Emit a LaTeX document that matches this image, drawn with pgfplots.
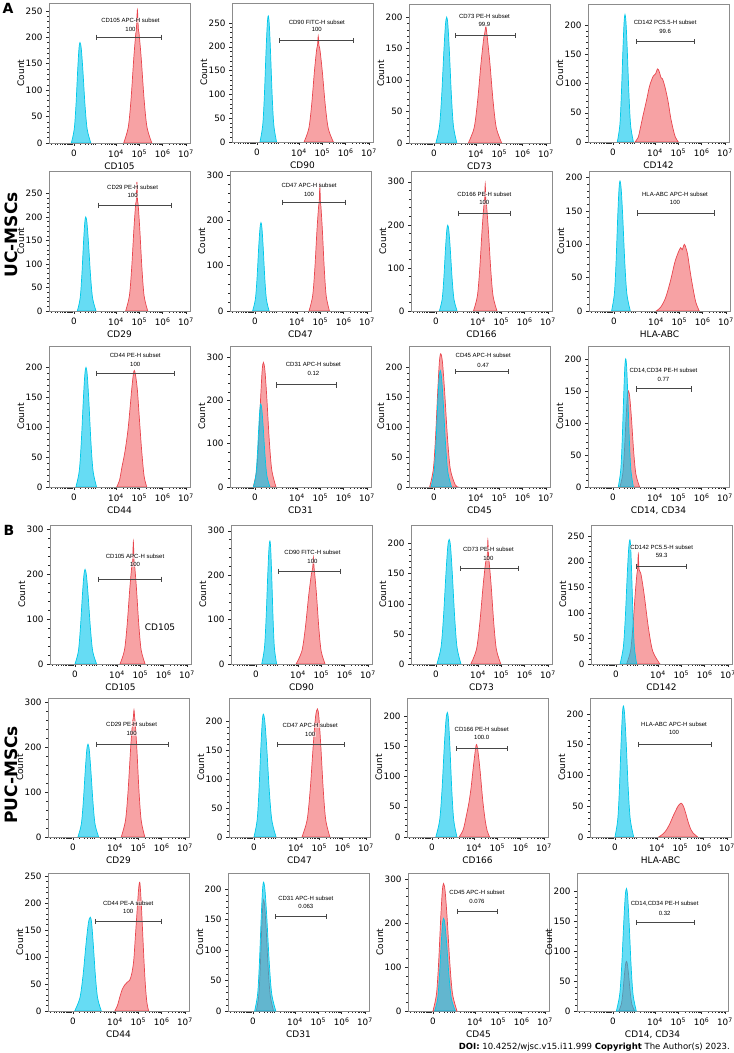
\documentclass[border=0pt]{standalone}
\usepackage{fontspec}
\setmainfont{DejaVu Sans}
\newfontfamily\gatefont{Liberation Sans}
\usepackage{pgfplots}
\pgfplotsset{compat=1.18}
\definecolor{redL}{RGB}{232,70,78}
\definecolor{redF}{RGB}{240,85,90}
\definecolor{cyL}{RGB}{0,200,232}
\definecolor{cyF}{RGB}{0,196,236}
\tikzset{gtext/.style={font=\gatefont\fontsize{6}{6.5}\selectfont, fill=white, fill opacity=0.55, text opacity=1, inner sep=0.4pt}}
\pgfplotsset{
  fc/.style={
    scale only axis, width=141pt, anchor=south west,
    xmin=-1.04, xmax=4.83, ymin=0,
    xtick={0,1.75,2.72,3.69,4.66},
    xticklabels={0,10\textsuperscript{4},10\textsuperscript{5},10\textsuperscript{6},10\textsuperscript{7}},
    minor xtick={-1.4,-1.2,-0.95,-0.8,-0.68,-0.58,-0.5,-0.42,-0.35,-0.29,-0.24,-0.2,-0.16,-0.13,-0.1,-0.07,0.25,0.45,0.6,0.72,0.82,0.9,1.15,1.3,1.4,1.48,1.55,1.61,1.66,1.71,2.04,2.21,2.33,2.43,2.50,2.57,2.63,2.68,3.01,3.18,3.30,3.40,3.47,3.54,3.60,3.65,3.98,4.15,4.27,4.37,4.44,4.51,4.57,4.62},
    minor y tick num=4,
    tick pos=left, tick align=outside,
    major tick length=3pt, minor tick length=1.6pt,
    axis line style={black!45, line width=0.6pt},
    tick style={black!85, line width=0.5pt},
    ylabel={Count},
    tick label style={font=\fontsize{8.8}{9.5}\selectfont},
    label style={font=\fontsize{9}{10}\selectfont},
    ylabel style={at={(axis description cs:-0.15,0.5)}, anchor=south},
    xlabel style={at={(axis description cs:0.5,-0.118)}, anchor=north},
    /pgf/number format/assume math mode=true,
  },
  redc/.style={smooth, draw=redL, fill=redF, fill opacity=0.55, line width=0.7pt},
  cyc/.style={smooth, draw=cyL, fill=cyF, fill opacity=0.6, line width=0.7pt},
  gatel/.style={black!72, line width=0.9pt, mark=|, mark size=2.6pt, mark options={solid, line width=0.9pt}},
}
\newcommand{\gate}[8]{%
  \addplot[gatel] coordinates {(#1,#3)(#2,#3)};
  \node[gtext] at (axis cs:#4,#5) {#6};
  \node[gtext] at (axis cs:#4,#7) {#8};
}
\begin{document}
\begin{tikzpicture}
\path[use as bounding box] (0,0) rectangle (734pt,1053pt);
% ---------------- Row 1 ----------------
\begin{axis}[fc, at={(49pt,910pt)}, height=140pt, ymax=265, ytick={0,50,...,250}, xlabel={CD105}]
\addplot[redc] coordinates {(2.07,0)(2.26,30)(2.374,82)(2.488,160)(2.573,207)(2.60,216)(2.64,252)(2.68,216)(2.71,207)(2.80,160)(2.92,82)(3.04,30)(3.24,0)} \closedcycle;
\addplot[cyc] coordinates {(-0.11,0)(0.01,26)(0.082,71)(0.154,138)(0.208,179)(0.25,190)(0.303,179)(0.37,138)(0.46,71)(0.55,26)(0.70,0)} \closedcycle;
\gate{0.95}{3.64}{200}{2.35}{232}{CD105 APC-H subset}{215}{100}
\end{axis}
\begin{axis}[fc, at={(232pt,911pt)}, height=139pt, ymax=292, ytick={0,50,...,250}, xlabel={CD90}]
\addplot[redc] coordinates {(1.96,0)(2.156,28)(2.274,77)(2.392,149)(2.481,193)(2.52,203)(2.55,222)(2.58,203)(2.623,193)(2.718,149)(2.844,77)(2.97,28)(3.18,0)} \closedcycle;
\addplot[cyc] coordinates {(0.125,0)(0.24,36)(0.309,99)(0.378,192)(0.43,249)(0.47,265)(0.51,249)(0.562,192)(0.631,99)(0.70,36)(0.815,0)} \closedcycle;
\gate{0.92}{4.0}{213}{2.49}{251}{CD90 FITC-H subset}{236}{100}
\end{axis}
\begin{axis}[fc, at={(409pt,910pt)}, height=139pt, ymax=221, ytick={0,50,...,200}, xlabel={CD73}]
\addplot[redc] coordinates {(1.43,0)(1.67,24)(1.814,66)(1.958,127)(2.066,165)(2.11,174)(2.16,185)(2.2,174)(2.228,165)(2.328,127)(2.462,66)(2.596,24)(2.82,0)} \closedcycle;
\addplot[cyc] coordinates {(0.08,0)(0.23,27)(0.32,75)(0.41,145)(0.4775,188)(0.53,200)(0.579,188)(0.642,145)(0.726,75)(0.81,27)(0.95,0)} \closedcycle;
\gate{0.9}{3.4}{171}{2.1}{202}{CD73 PE-H subset}{189}{99.9}
\end{axis}
\begin{axis}[fc, at={(588pt,911pt)}, height=138pt, ymax=236, ytick={0,50,...,200}, xlabel={CD142}]
\addplot[redc] coordinates {(0.92,0)(1.05,8)(1.125,21)(1.25,45)(1.40,72)(1.50,92)(1.58,103)(1.68,113)(1.78,117)(1.85,125)(1.92,121)(2.0,110)(2.06,108)(2.125,100)(2.2,88)(2.30,68)(2.40,42)(2.51,21)(2.6,8)(2.72,0)} \closedcycle;
\addplot[cyc] coordinates {(0.18,0)(0.286,29)(0.35,82)(0.414,158)(0.4625,205)(0.5,218)(0.541,205)(0.594,158)(0.664,82)(0.734,29)(0.85,0)} \closedcycle;
\gate{0.99}{3.39}{171.5}{2.17}{204}{CD142 PC5.5-H subset}{189}{99.6}
\end{axis}
% ---------------- Row 2 ----------------
\begin{axis}[fc, at={(49pt,742pt)}, height=140pt, ymax=298, ytick={0,50,...,250}, xlabel={CD29}]
\addplot[redc] coordinates {(2.15,0)(2.306,32)(2.40,90)(2.494,174)(2.565,226)(2.595,235)(2.62,275)(2.645,235)(2.6725,226)(2.74,174)(2.83,90)(2.92,32)(3.07,0)} \closedcycle;
\addplot[cyc] coordinates {(0.14,0)(0.256,27)(0.326,75)(0.396,145)(0.449,188)(0.49,200)(0.54,188)(0.604,145)(0.69,75)(0.776,27)(0.92,0)} \closedcycle;
\gate{1.02}{4.04}{225}{2.44}{264}{CD29 PE-H subset}{245}{100}
\end{axis}
\begin{axis}[fc, at={(230pt,742pt)}, height=140pt, ymax=309, ytick={0,100,...,300}, xlabel={CD47}]
\addplot[redc] coordinates {(2.25,0)(2.40,33)(2.49,92)(2.58,178)(2.6475,230)(2.675,240)(2.70,277)(2.725,240)(2.7465,230)(2.806,178)(2.886,92)(2.966,33)(3.10,0)} \closedcycle;
\addplot[cyc] coordinates {(-0.10,0)(0.016,26)(0.086,73)(0.156,142)(0.209,183)(0.25,195)(0.29,183)(0.34,142)(0.408,73)(0.476,26)(0.59,0)} \closedcycle;
\gate{1.13}{3.75}{240}{2.25}{277}{CD47 APC-H subset}{257}{100}
\end{axis}
\begin{axis}[fc, at={(411pt,742pt)}, height=140pt, ymax=325, ytick={0,100,...,300}, xlabel={CD166}]
\addplot[redc] coordinates {(1.56,0)(1.724,35)(1.822,98)(1.92,189)(1.993,244)(2.025,255)(2.05,295)(2.075,255)(2.107,244)(2.18,189)(2.278,98)(2.376,35)(2.54,0)} \closedcycle;
\addplot[cyc] coordinates {(0.14,0)(0.256,27)(0.326,75)(0.396,145)(0.449,187)(0.49,199)(0.5355,187)(0.594,145)(0.672,75)(0.75,27)(0.88,0)} \closedcycle;
\gate{0.92}{3.09}{227}{2.01}{271}{CD166 PE-H subset}{251}{100}
\end{axis}
\begin{axis}[fc, at={(589pt,742pt)}, height=140pt, ymax=210, ytick={0,50,...,200}, xlabel={HLA-ABC}]
\addplot[redc] coordinates {(1.76,0)(1.95,6)(2.15,20)(2.35,45)(2.54,74)(2.7,90)(2.78,95)(2.84,92)(2.93,100)(3.0,94)(3.07,84)(3.16,62)(3.26,40)(3.4,14)(3.55,0)} \closedcycle;
\addplot[cyc] coordinates {(-0.10,0)(0.016,26)(0.086,73)(0.156,142)(0.209,183)(0.25,195)(0.30,183)(0.364,142)(0.45,73)(0.536,26)(0.68,0)} \closedcycle;
\gate{0.98}{4.2}{147}{2.54}{175}{HLA-ABC APC-H subset}{163}{100}
\end{axis}
% ---------------- Row 3 ----------------
\begin{axis}[fc, at={(49pt,566pt)}, height=141pt, ymax=236, ytick={0,50,...,200}, xlabel={CD44}]
\addplot[redc] coordinates {(1.78,0)(1.9,12)(1.99,32)(2.125,60)(2.26,100)(2.40,162)(2.47,188)(2.51,195)(2.56,188)(2.64,162)(2.73,110)(2.82,60)(2.92,18)(3.03,0)} \closedcycle;
\addplot[cyc] coordinates {(0.08,0)(0.22,27)(0.304,75)(0.388,145)(0.451,188)(0.5,200)(0.5515,188)(0.618,145)(0.706,75)(0.794,27)(0.94,0)} \closedcycle;
\gate{0.94}{4.2}{190}{2.55}{220}{CD44 PE-H subset}{205}{100}
\end{axis}
\begin{axis}[fc, at={(230pt,566pt)}, height=141pt, ymax=326, ytick={0,100,...,300}, xlabel={CD31}]
\addplot[redc] coordinates {(-0.07,0)(0.07,39)(0.154,108)(0.238,209)(0.301,271)(0.35,288)(0.411,271)(0.49,209)(0.595,108)(0.70,39)(0.875,0)} \closedcycle;
\addplot[cyc] coordinates {(-0.07,0)(0.034,26)(0.096,72)(0.158,139)(0.204,180)(0.24,192)(0.285,180)(0.342,139)(0.419,72)(0.496,26)(0.625,0)} \closedcycle;
\gate{0.875}{3.4}{236}{2.43}{283}{CD31 APC-H subset}{262}{0.12}
\end{axis}
\begin{axis}[fc, at={(409pt,566pt)}, height=141pt, ymax=236, ytick={0,50,...,200}, xlabel={CD45}]
\addplot[redc] coordinates {(-0.18,0)(-0.026,30)(0.066,84)(0.158,162)(0.226,210)(0.28,223)(0.35,210)(0.44,162)(0.56,84)(0.68,30)(0.88,4)(1.0,0)} \closedcycle;
\addplot[cyc] coordinates {(-0.12,0)(0.006,26)(0.082,73)(0.158,142)(0.2155,183)(0.26,195)(0.315,183)(0.386,142)(0.48,73)(0.574,26)(0.73,0)} \closedcycle;
\gate{0.9}{3.1}{193}{2.05}{220}{CD45 APC-H subset}{204}{0.47}
\end{axis}
\begin{axis}[fc, at={(588pt,566pt)}, height=141pt, ymax=220, ytick={0,50,...,200}, xlabel={CD14, CD34}]
\addplot[redc] coordinates {(0.29,0)(0.406,20)(0.476,56)(0.546,109)(0.599,141)(0.64,150)(0.695,141)(0.766,109)(0.86,56)(0.954,20)(1.11,0)} \closedcycle;
\addplot[cyc] coordinates {(0.22,0)(0.324,27)(0.386,75)(0.448,145)(0.494,188)(0.53,200)(0.5675,188)(0.616,145)(0.68,75)(0.744,27)(0.85,0)} \closedcycle;
\gate{0.97}{3.26}{153}{2.1}{182}{CD14,CD34 PE-H subset}{168}{0.77}
\end{axis}
% ---------------- Row 4 ----------------
\begin{axis}[fc, at={(50pt,389pt)}, height=139pt, ymax=310, ytick={0,100,...,300}, xlabel={CD105}]
\addplot[redc] coordinates {(1.875,0)(2.06,31)(2.171,87)(2.282,168)(2.365,218)(2.40,228)(2.43,273)(2.46,228)(2.487,218)(2.56,168)(2.658,87)(2.756,31)(2.92,0)} \closedcycle;
\addplot[cyc] coordinates {(0,0)(0.14,28)(0.224,79)(0.308,153)(0.371,198)(0.42,211)(0.476,198)(0.548,153)(0.644,79)(0.74,28)(0.90,0)} \closedcycle;
\gate{0.97}{3.6}{189}{2.5}{239}{CD105 APC-H subset}{222}{100}
\node[font=\fontsize{9}{10}\selectfont] at (axis cs:3.54,82) {CD105};
\end{axis}
\begin{axis}[fc, at={(231pt,389pt)}, height=139pt, ymax=313, ytick={0,100,...,300}, xlabel={CD90}]
\addplot[redc] coordinates {(1.67,0)(1.91,29)(2.054,81)(2.198,156)(2.306,202)(2.36,216)(2.39,240)(2.42,216)(2.447,202)(2.52,156)(2.617,81)(2.714,29)(2.875,0)} \closedcycle;
\addplot[cyc] coordinates {(0.24,0)(0.354,37)(0.422,104)(0.49,201)(0.54,260)(0.58,277)(0.6126,260)(0.654,201)(0.71,104)(0.766,37)(0.86,0)} \closedcycle;
\gate{0.93}{3.53}{209}{2.35}{252}{CD90 FITC-H subset}{231}{100}
\end{axis}
\begin{axis}[fc, at={(411pt,389pt)}, height=139pt, ymax=231, ytick={0,50,...,200}, xlabel={CD73}]
\addplot[redc] coordinates {(1.45,0)(1.684,24)(1.824,68)(1.964,131)(2.068,169)(2.13,177)(2.16,206)(2.19,177)(2.214,169)(2.296,131)(2.406,68)(2.516,24)(2.70,0)} \closedcycle;
\addplot[cyc] coordinates {(0.04,0)(0.21,28)(0.312,78)(0.414,150)(0.4905,195)(0.55,207)(0.607,195)(0.68,150)(0.778,78)(0.876,28)(1.04,0)} \closedcycle;
\gate{1.0}{3.43}{159}{2.18}{190}{CD73 PE-H subset}{176}{100}
\end{axis}
\begin{axis}[fc, at={(591pt,389pt)}, height=139pt, ymax=272, ytick={0,50,...,250}, xlabel={CD142}]
\addplot[redc] coordinates {(0.44,0)(0.604,25)(0.702,71)(0.80,137)(0.873,177)(0.90,185)(0.93,215)(0.96,185)(1.035,177)(1.17,137)(1.35,71)(1.53,25)(1.83,0)} \closedcycle;
\addplot[cyc] coordinates {(0.17,0)(0.306,33)(0.388,91)(0.47,176)(0.532,228)(0.58,243)(0.6126,228)(0.654,176)(0.71,91)(0.766,33)(0.86,0)} \closedcycle;
\gate{0.86}{2.95}{191}{1.9}{228}{CD142 PC5.5-H subset}{212}{59.3}
\end{axis}
% ---------------- Row 5 ----------------
\begin{axis}[fc, at={(48pt,216pt)}, height=139pt, ymax=310, ytick={0,100,...,300}, xlabel={CD29}]
\addplot[redc] coordinates {(2.01,0)(2.186,37)(2.292,101)(2.398,196)(2.478,254)(2.51,265)(2.54,283)(2.57,265)(2.5925,254)(2.66,196)(2.75,101)(2.84,37)(2.99,0)} \closedcycle;
\addplot[cyc] coordinates {(0.205,0)(0.345,28)(0.429,78)(0.513,150)(0.576,195)(0.625,207)(0.677,195)(0.743,150)(0.832,78)(0.921,28)(1.07,0)} \closedcycle;
\gate{0.98}{3.96}{207}{2.44}{252}{CD29 PE-H subset}{231}{100}
\end{axis}
\begin{axis}[fc, at={(229pt,216pt)}, height=139pt, ymax=241, ytick={0,50,...,200}, xlabel={CD47}]
\addplot[redc] coordinates {(2.0,0)(2.214,30)(2.342,83)(2.47,161)(2.565,209)(2.64,222)(2.70,209)(2.778,161)(2.882,83)(2.986,30)(3.16,0)} \closedcycle;
\addplot[cyc] coordinates {(0,0)(0.13,29)(0.208,80)(0.286,155)(0.3445,200)(0.39,213)(0.452,200)(0.532,155)(0.638,80)(0.744,29)(0.92,0)} \closedcycle;
\gate{0.98}{3.75}{160}{2.34}{194}{CD47 APC-H subset}{178}{100}
\end{axis}
\begin{axis}[fc, at={(407pt,216pt)}, height=139pt, ymax=230, ytick={0,50,...,200}, xlabel={CD166}]
\addplot[redc] coordinates {(1.13,0)(1.3,12)(1.43,35)(1.53,55)(1.62,79)(1.70,108)(1.76,129)(1.82,148)(1.86,153)(1.92,140)(2.01,107)(2.11,62)(2.21,29)(2.30,10)(2.40,0)} \closedcycle;
\addplot[cyc] coordinates {(0.16,0)(0.32,28)(0.416,77)(0.512,150)(0.584,194)(0.64,206)(0.6866,194)(0.746,150)(0.826,77)(0.906,28)(1.04,0)} \closedcycle;
\gate{1.0}{3.14}{146}{2.07}{178}{CD166 PE-H subset}{164}{100.0}
\end{axis}
\begin{axis}[fc, at={(590pt,216pt)}, height=139pt, ymax=226, ytick={0,50,...,200}, xlabel={HLA-ABC}]
\addplot[redc] coordinates {(1.82,0)(2.0,5)(2.15,12)(2.3,23)(2.42,34)(2.52,42)(2.62,50)(2.75,55)(2.85,50)(2.95,38)(3.05,24)(3.15,13)(3.24,7)(3.44,0)} \closedcycle;
\addplot[cyc] coordinates {(0,0)(0.116,29)(0.186,80)(0.256,155)(0.309,200)(0.35,213)(0.40,200)(0.464,155)(0.55,80)(0.636,29)(0.78,0)} \closedcycle;
\gate{0.98}{4.02}{150.5}{2.46}{183.5}{HLA-ABC APC-H subset}{170}{100}
\end{axis}
% ---------------- Row 6 ----------------
\begin{axis}[fc, at={(48pt,42pt)}, height=138pt, ymax=256, ytick={0,50,...,250}, xlabel={CD44}]
\addplot[redc] coordinates {(1.74,0)(1.85,10)(1.95,26)(2.05,40)(2.15,48)(2.25,53)(2.36,57)(2.45,70)(2.53,94)(2.60,140)(2.67,186)(2.73,225)(2.78,239)(2.83,210)(2.89,156)(2.96,90)(3.02,44)(3.08,15)(3.15,0)} \closedcycle;
\addplot[cyc] coordinates {(0.07,0)(0.286,24)(0.416,65)(0.546,126)(0.644,164)(0.72,174)(0.774,164)(0.842,126)(0.934,65)(1.026,24)(1.18,0)} \closedcycle;
\gate{0.93}{3.68}{166}{2.3}{200}{CD44 PE-A subset}{185}{100}
\end{axis}
\begin{axis}[fc, at={(228pt,42pt)}, height=138pt, ymax=226, ytick={0,50,...,200}, xlabel={CD31}]
\addplot[redc] coordinates {(0.14,0)(0.24,25)(0.30,68)(0.36,132)(0.405,171)(0.44,182)(0.489,171)(0.552,132)(0.636,68)(0.72,25)(0.86,0)} \closedcycle;
\addplot[cyc] coordinates {(0.07,0)(0.194,28)(0.268,79)(0.342,153)(0.397,198)(0.44,211)(0.4995,198)(0.576,153)(0.678,79)(0.78,28)(0.95,0)} \closedcycle;
\gate{0.93}{3.06}{154.5}{2.2}{185}{CD31 APC-H subset}{172}{0.063}
\end{axis}
\begin{axis}[fc, at={(408pt,42pt)}, height=138pt, ymax=314, ytick={0,100,...,300}, xlabel={CD45}]
\addplot[redc] coordinates {(0,0)(0.146,39)(0.234,109)(0.322,211)(0.3885,273)(0.44,290)(0.505,273)(0.59,211)(0.702,109)(0.814,39)(1.0,0)} \closedcycle;
\addplot[cyc] coordinates {(0.07,0)(0.194,28)(0.268,79)(0.342,153)(0.397,198)(0.44,211)(0.497,198)(0.57,153)(0.668,79)(0.766,28)(0.93,0)} \closedcycle;
\gate{1.0}{2.67}{226.5}{1.83}{269}{CD45 APC-H subset}{249}{0.076}
\end{axis}
\begin{axis}[fc, at={(577pt,42pt)}, width=151pt, xmin=-1.5, xmax=4.79, height=138pt, ymax=231, ytick={0,50,...,200}, xlabel={CD14, CD34}, ylabel style={at={(axis description cs:-0.14,0.5)}}]
\addplot[redc] coordinates {(0.24,0)(0.346,11)(0.41,31)(0.474,60)(0.5225,78)(0.56,83)(0.6,78)(0.65,60)(0.718,31)(0.786,11)(0.90,0)} \closedcycle;
\addplot[cyc] coordinates {(0.14,0)(0.28,28)(0.364,77)(0.448,149)(0.511,193)(0.56,205)(0.608,193)(0.67,149)(0.752,77)(0.834,28)(0.97,0)} \closedcycle;
\gate{0.97}{3.4}{148}{2.15}{179}{CD14,CD34 PE-H subset}{164}{0.32}
\end{axis}
% ---------------- annotations ----------------
\node[font=\bfseries\fontsize{14}{14}\selectfont] at (8pt,1045pt) {A};
\node[font=\bfseries\fontsize{14}{14}\selectfont] at (9pt,523pt) {B};
\node[rotate=90, font=\bfseries\fontsize{17}{17}\selectfont] at (11pt,818pt) {UC-MSCs};
\node[rotate=90, font=\bfseries\fontsize{17}{17}\selectfont] at (11pt,278pt) {PUC-MSCs};
\node[anchor=east, font=\fontsize{8.5}{9}\selectfont, inner sep=0pt] at (730pt,6pt) {\textbf{DOI:} 10.4252/wjsc.v15.i11.999 \textbf{Copyright} The Author(s) 2023.};
\end{tikzpicture}
\end{document}
